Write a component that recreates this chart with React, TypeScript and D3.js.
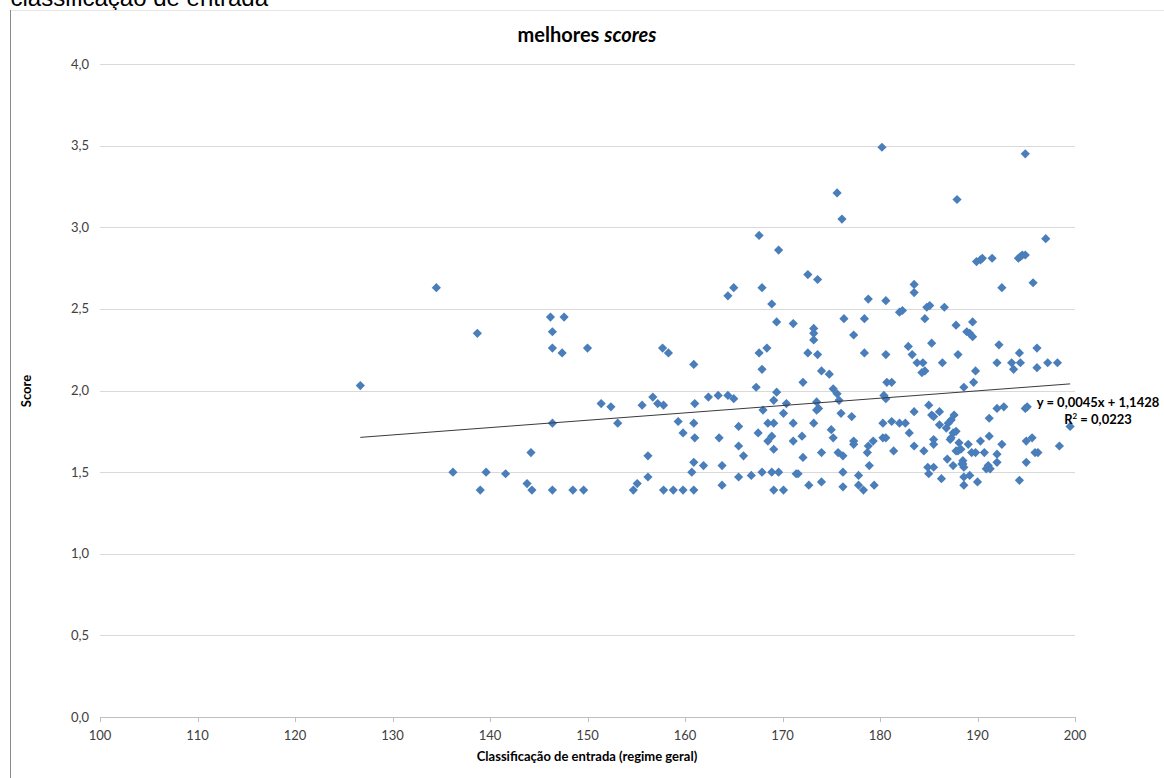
import React from 'react';
import * as d3 from 'd3';

// Classificação de entrada (regime geral)
const classificacao: number[] = [
  126.7, 134.5, 138.7, 146.2, 147.6, 146.4, 146.4, 147.4, 150.0, 151.4, 152.4, 153.1, 146.4, 144.2, 136.2, 139.6, 141.6, 143.8, 144.3, 139.0, 146.4, 148.5, 149.6,
  167.6, 169.6, 164.4, 165.0, 167.9, 168.9, 169.4, 171.1, 157.7, 158.3, 160.9, 167.6, 168.4, 167.9, 167.3, 169.4, 169.1, 168.0, 170.4, 170.1,
  155.6, 156.7, 157.2, 157.8, 161.0, 162.4, 163.4, 164.4, 165.0, 159.3, 160.9, 159.8, 161.0, 163.5, 165.5, 167.5, 168.5, 169.1, 168.5, 168.9, 169.1,
  171.1, 171.1, 165.5, 166.0, 156.2, 160.9, 161.9, 163.8, 160.7, 156.2, 165.5, 166.8, 167.9, 168.9, 169.6, 171.4, 154.7, 155.1, 157.8, 158.8, 159.8,
  160.9, 163.8, 169.1, 170.1,
  180.2, 175.6, 176.1, 187.9, 172.6, 173.6, 183.5, 183.5, 178.8, 180.6, 182.0, 182.3, 184.8, 185.1, 186.6, 184.6, 173.2, 173.2, 173.2, 176.3, 178.4,
  177.3, 187.8, 172.6, 173.6, 178.4, 180.6, 182.9, 183.3, 185.3, 183.8, 184.4, 184.3, 184.6, 186.4, 188.0, 174.0, 174.8, 172.1, 175.2, 175.6, 175.8,
  180.7, 181.2, 180.4, 180.6, 173.5, 173.7, 173.5, 176.0, 177.1, 173.2, 175.0, 175.2, 172.0, 172.1, 174.0, 175.7, 176.2, 177.3, 177.3, 178.8, 178.7,
  179.3, 180.3, 181.2, 182.0, 182.6, 180.3, 180.6, 181.4, 183.0, 183.5, 183.5, 185.0, 185.3, 185.5, 186.1, 186.1, 186.8, 185.5, 185.5, 184.5, 171.6,
  172.7, 174.0, 176.2, 176.2, 177.8, 177.8, 178.3, 178.9, 179.4, 184.9, 185.5, 185.0, 186.3, 186.9, 187.5,
  194.9, 197.0, 189.9, 190.3, 190.5, 191.5, 194.2, 194.4, 194.6, 194.9, 192.5, 195.7, 188.9, 189.2, 189.5, 189.5, 192.2, 192.0, 193.5, 193.7, 194.3,
  194.4, 196.1, 196.1, 197.2, 198.2, 189.8, 189.6, 188.6, 199.5, 198.4, 194.9, 195.1, 192.0, 192.7, 191.2, 187.6, 187.3, 187.0, 187.8, 187.5, 187.2,
  187.3, 188.1, 188.3, 188.0, 187.8, 189.05, 189.4, 189.8, 190.3, 191.2, 190.7, 192.5, 192.0, 192.0, 191.1, 191.3, 190.9, 195.0, 195.6, 195.9, 196.2,
  195.0, 188.6, 188.5, 188.6, 189.2, 188.6, 190.0, 194.3, 188.5, 188.4
];

// Score
const score: number[] = [
  2.03, 2.63, 2.35, 2.45, 2.45, 2.36, 2.26, 2.23, 2.26, 1.92, 1.90, 1.80, 1.80, 1.62, 1.50, 1.50, 1.49, 1.43, 1.39, 1.39, 1.39, 1.39, 1.39,
  2.95, 2.86, 2.58, 2.63, 2.63, 2.53, 2.42, 2.41, 2.26, 2.23, 2.16, 2.23, 2.26, 2.13, 2.02, 1.99, 1.94, 1.88, 1.92, 1.86,
  1.91, 1.96, 1.92, 1.91, 1.92, 1.96, 1.97, 1.97, 1.95, 1.81, 1.80, 1.74, 1.71, 1.71, 1.78, 1.74, 1.80, 1.80, 1.69, 1.72, 1.64,
  1.80, 1.69, 1.66, 1.60, 1.60, 1.56, 1.54, 1.54, 1.50, 1.47, 1.47, 1.48, 1.50, 1.50, 1.50, 1.49, 1.39, 1.43, 1.39, 1.39, 1.39,
  1.39, 1.42, 1.39, 1.39,
  3.49, 3.21, 3.05, 3.17, 2.71, 2.68, 2.65, 2.60, 2.56, 2.55, 2.48, 2.49, 2.51, 2.52, 2.51, 2.44, 2.38, 2.35, 2.31, 2.44, 2.44,
  2.34, 2.40, 2.23, 2.22, 2.23, 2.22, 2.27, 2.22, 2.29, 2.17, 2.17, 2.11, 2.12, 2.17, 2.22, 2.12, 2.10, 2.05, 2.01, 1.98, 1.94,
  2.05, 2.05, 1.97, 1.95, 1.93, 1.89, 1.88, 1.86, 1.84, 1.80, 1.76, 1.71, 1.72, 1.59, 1.62, 1.62, 1.60, 1.69, 1.67, 1.66, 1.62,
  1.69, 1.80, 1.81, 1.80, 1.80, 1.71, 1.71, 1.63, 1.74, 1.87, 1.66, 1.91, 1.85, 1.84, 1.87, 1.79, 1.77, 1.70, 1.67, 1.63, 1.49,
  1.42, 1.44, 1.50, 1.41, 1.48, 1.42, 1.39, 1.54, 1.42, 1.53, 1.53, 1.49, 1.46, 1.58, 1.54,
  3.45, 2.93, 2.79, 2.80, 2.81, 2.81, 2.81, 2.82, 2.83, 2.83, 2.63, 2.66, 2.36, 2.35, 2.33, 2.42, 2.28, 2.17, 2.17, 2.13, 2.23,
  2.17, 2.26, 2.14, 2.17, 2.17, 2.12, 2.05, 2.02, 1.78, 1.66, 1.89, 1.90, 1.89, 1.90, 1.83, 1.85, 1.82, 1.80, 1.75, 1.74, 1.70,
  1.71, 1.68, 1.64, 1.63, 1.63, 1.67, 1.62, 1.62, 1.69, 1.72, 1.62, 1.67, 1.61, 1.56, 1.54, 1.52, 1.52, 1.69, 1.71, 1.62, 1.62,
  1.56, 1.53, 1.55, 1.47, 1.48, 1.42, 1.44, 1.45, 1.57, 1.55
];

const xTicks: number[] = [100, 110, 120, 130, 140, 150, 160, 170, 180, 190, 200];
const yTicks: number[] = [0, 0.5, 1, 1.5, 2, 2.5, 3, 3.5, 4];

const trendSlope = 0.0045;
const trendIntercept = 1.1428;
const trendLabel = 'y = 0,0045x + 1,1428';
const r2Label = '0,0223';

const title1 = 'melhores ';
const title2 = 'scores';
const xTitle = 'Classificação de entrada (regime geral)';
const yTitle = 'Score';
const topText = 'classificação de entrada';

export default function App() {
  const W = 1164;
  const H = 778;
  const x = d3.scaleLinear().domain([100, 200]).range([100, 1075]);
  const y = d3.scaleLinear().domain([0, 4]).range([717, 64]);
  const fmt = (v: number) => d3.format('.1f')(v).replace('.', ',');
  const font = 'Lato, Calibri, "Liberation Sans", sans-serif';

  const r = 4.6;
  const diamond = `M0,${-r}L${r},0L0,${r}L${-r},0Z`;

  const [xmin, xmax] = d3.extent(classificacao) as [number, number];
  const trend = d3.line<number>()
    .x((d) => x(d))
    .y((d) => y(trendSlope * d + trendIntercept))([xmin, xmax]);

  const pts = classificacao.map((c, i) => [c, score[i]] as [number, number]);

  return (
    <svg width={W} height={H} style={{ position: 'absolute', left: 0, top: 0, background: '#fff' }}>
      <rect x={0} y={0} width={W} height={H} fill="#fff" />
      <text x={10.5} y={6} fontFamily='"Liberation Sans", Arial, sans-serif' fontSize={24} fill="#000">{topText}</text>
      <line x1={10} x2={W} y1={10.5} y2={10.5} stroke="#e6e6e6" />
      <line x1={10.5} x2={10.5} y1={10} y2={H} stroke="#8a8a8a" />

      <text x={587} y={42} textAnchor="middle" fontFamily={font} fontSize={20} fontWeight="bold" fill="#000">
        {title1}<tspan fontStyle="italic">{title2}</tspan>
      </text>

      {yTicks.map((t) => (
        <g key={'y' + t}>
          <line x1={x(100)} x2={x(200)} y1={Math.round(y(t)) + 0.5} y2={Math.round(y(t)) + 0.5}
            stroke={t === 0 ? '#bfbfbf' : '#d9d9d9'} strokeWidth={1} />
          <text x={89} y={y(t) + 4.5} textAnchor="end" fontFamily={font} fontSize={13} fill="#404040">{fmt(t)}</text>
        </g>
      ))}

      {xTicks.map((t) => (
        <g key={'x' + t}>
          <line x1={Math.round(x(t)) + 0.5} x2={Math.round(x(t)) + 0.5} y1={717} y2={722} stroke="#bfbfbf" />
          <text x={x(t)} y={740} textAnchor="middle" fontFamily={font} fontSize={13} fill="#404040">{t}</text>
        </g>
      ))}

      <text x={587} y={761} textAnchor="middle" fontFamily={font} fontSize={13} fontWeight="bold" fill="#000">{xTitle}</text>
      <text transform={`translate(31,391) rotate(-90)`} textAnchor="middle" fontFamily={font} fontSize={13} fontWeight="bold" fill="#000">{yTitle}</text>

      {pts.map(([c, s], i) => (
        <path key={i} d={diamond} transform={`translate(${x(c)},${y(s)})`} fill="#4a7ebb" />
      ))}

      <path d={trend || ''} fill="none" stroke="#3a3a3a" strokeWidth={1} />

      <text x={1098} y={407} textAnchor="middle" fontFamily={font} fontSize={13} fontWeight="bold" fill="#000">{trendLabel}</text>
      <text x={1098} y={424} textAnchor="middle" fontFamily={font} fontSize={13} fontWeight="bold" fill="#000">
        R<tspan dy={-5} fontSize={8}>2</tspan><tspan dy={5}> = {r2Label}</tspan>
      </text>
    </svg>
  );
}
